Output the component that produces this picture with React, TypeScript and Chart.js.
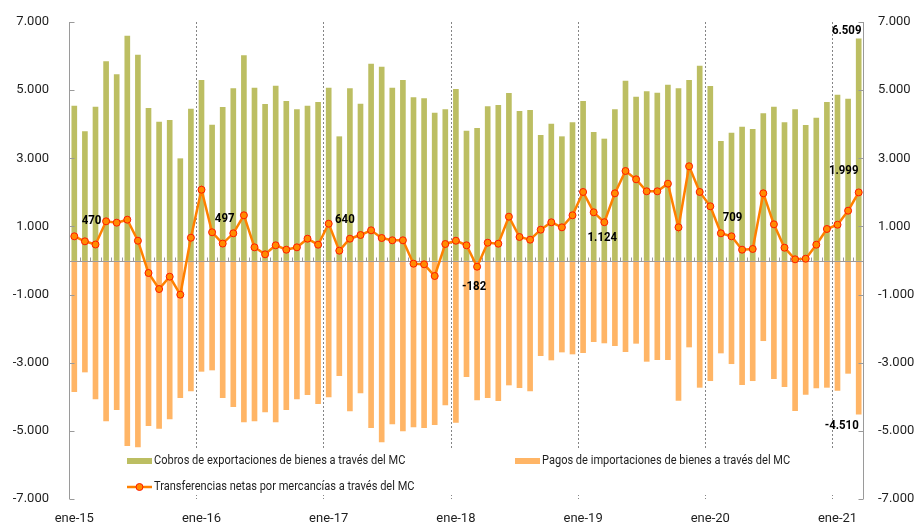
import React, { useEffect, useRef } from 'react';
import { Chart, registerables } from 'chart.js';

Chart.register(...registerables);

const monthNames = ['ene', 'feb', 'mar', 'abr', 'may', 'jun', 'jul', 'ago', 'sep', 'oct', 'nov', 'dic'];
const yearSuffixes = ['15', '16', '17', '18', '19', '20', '21'];
const categories: string[] = yearSuffixes.flatMap((y) => monthNames.map((m) => `${m}-${y}`)).slice(0, 75);

// Cobros de exportaciones de bienes a través del MC
const exportsMC = [
  4535, 3781, 4505, 5836, 5455, 6589, 6032, 4467, 4065, 4114, 2988, 4447,
  5289, 3977, 4496, 5043, 6013, 5063, 4584, 5122, 4672, 4427, 4535, 4643,
  5063, 3634, 5043, 4593, 5767, 5680, 5063, 5289, 4779, 4750, 4329, 4427,
  5024, 3801, 3879, 4516, 4555, 4907, 4379, 4408, 3673, 4006, 3634, 4045,
  4672, 3762, 3566, 4427, 5269, 4798, 4955, 4916, 5151, 5043, 5289, 5709,
  5112, 3498, 3742, 3918, 3849, 4310, 4505, 4045, 4427, 3967, 4183, 4643,
  4858, 4740, 6509,
];

// Pagos de importaciones de bienes a través del MC
const importsMC = [
  -3851, -3273, -4065, -4711, -4379, -5436, -5474, -4849, -4926, -4652, -4027, -3830,
  -3253, -3214, -4027, -4291, -4740, -4711, -4447, -4740, -4379, -4065, -3939, -4203,
  -4007, -3381, -4417, -3889, -4907, -5327, -4799, -5004, -4887, -4907, -4819, -4241,
  -4750, -3410, -4094, -4027, -4114, -3654, -3733, -3830, -2794, -2920, -2686, -2744,
  -2706, -2383, -2420, -2500, -2676, -2431, -2960, -2911, -2911, -4104, -2539, -3723,
  -3528, -2715, -3029, -3645, -3528, -2354, -3469, -3704, -4409, -3929, -3743, -3723,
  -3811, -3312, -4510,
];

// Transferencias netas por mercancías a través del MC
const netMC = [
  710, 563, 470, 1150, 1110, 1198, 581, -367, -837, -475, -1003, 669,
  2078, 828, 497, 798, 1327, 387, 182, 446, 317, 387, 640, 464,
  1080, 288, 640, 748, 886, 660, 593, 593, -94, -112, -455, 484,
  581, 446, -182, 522, 493, 1286, 690, 611, 904, 1121, 974, 1327,
  2011, 1415, 1124, 1972, 2627, 2383, 2031, 2031, 2254, 974, 2765, 2011,
  1591, 798, 709, 317, 338, 1972, 1062, 376, 35, 53, 464, 925,
  1051, 1462, 1999,
];

const seriesNames = [
  'Cobros de exportaciones de bienes a través del MC',
  'Pagos de importaciones de bienes a través del MC',
  'Transferencias netas por mercancías a través del MC',
];

const yMin = -7000;
const yMax = 7000;
const yStep = 2000;

// which points get a value label (dataset index, point index) and label offset in px
const labelledPoints = [
  { ds: 2, idx: 2, dx: -4, dy: -24 },
  { ds: 2, idx: 14, dx: 2, dy: -25 },
  { ds: 2, idx: 26, dx: -5, dy: -19 },
  { ds: 2, idx: 38, dx: -3, dy: 20 },
  { ds: 2, idx: 50, dx: -2, dy: 16 },
  { ds: 2, idx: 62, dx: 1, dy: -19 },
  { ds: 2, idx: 74, dx: -15, dy: -22 },
  { ds: 0, idx: 74, dx: -12, dy: -8 },
  { ds: 1, idx: 74, dx: -17, dy: 12 },
];

const GREEN = '#BCBE62';
const ORANGE_BAR = '#FFB566';
const LINE = '#FF8000';
const MARKER_FILL = '#FF8A00';
const MARKER_BORDER = '#FF1A00';
const AXIS = '#9a9a9a';
const TEXT = '#1e1e1e';
const FONT = 'Roboto';

const fmt = (v: number) => {
  const s = Math.abs(Math.round(v)).toString().replace(/\B(?=(\d{3})+(?!\d))/g, '.');
  return (v < 0 ? '-' : '') + s;
};

const drawCondensedText = (ctx: CanvasRenderingContext2D, text: string, x: number, y: number, factor: number) => {
  const w = ctx.measureText(text).width;
  ctx.fillText(text, x, y, w * factor);
};

const decorPlugin = {
  id: 'decor',
  beforeDatasetsDraw(chart: any) {
    const { ctx, chartArea: a, scales } = chart;
    const x = scales.x;
    ctx.save();
    ctx.strokeStyle = '#858585';
    ctx.lineWidth = 1;
    ctx.setLineDash([2, 2]);
    for (let i = 12; i < categories.length; i += 12) {
      const px = Math.round((x.getPixelForValue(i - 1) + x.getPixelForValue(i)) / 2) + 0.5;
      ctx.beginPath();
      ctx.moveTo(px, a.top);
      ctx.lineTo(px, a.bottom);
      ctx.stroke();
    }
    ctx.restore();
  },
  afterDatasetDraw(chart: any, args: any) {
    if (args.index !== 0) return;
    const { ctx, chartArea: a, scales } = chart;
    const x = scales.x;
    const y0 = Math.round(scales.y.getPixelForValue(0)) + 0.5;
    ctx.save();
    ctx.strokeStyle = AXIS;
    ctx.lineWidth = 1;
    ctx.beginPath();
    ctx.moveTo(a.left, y0);
    ctx.lineTo(a.right, y0);
    for (let i = 1; i < categories.length; i++) {
      const px = Math.round((x.getPixelForValue(i - 1) + x.getPixelForValue(i)) / 2) + 0.5;
      ctx.moveTo(px, y0);
      ctx.lineTo(px, y0 - 4);
    }
    ctx.stroke();
    ctx.restore();
  },
  afterDatasetsDraw(chart: any) {
    const { ctx, chartArea: a, scales } = chart;
    const y = scales.y;
    ctx.save();
    ctx.strokeStyle = AXIS;
    ctx.lineWidth = 1;
    const lx = Math.round(a.left) + 0.5;
    const rx = Math.round(a.right) - 0.5;
    ctx.beginPath();
    ctx.moveTo(lx, a.top);
    ctx.lineTo(lx, a.bottom);
    ctx.moveTo(rx, a.top);
    ctx.lineTo(rx, a.bottom);
    for (let v = yMin; v <= yMax; v += yStep) {
      const py = Math.round(y.getPixelForValue(v)) + 0.5;
      ctx.moveTo(lx, py);
      ctx.lineTo(lx + 5, py);
      ctx.moveTo(rx, py);
      ctx.lineTo(rx - 5, py);
    }
    ctx.stroke();

    ctx.fillStyle = '#000';
    ctx.font = `bold 13px ${FONT}`;
    ctx.textAlign = 'center';
    ctx.textBaseline = 'middle';
    labelledPoints.forEach((p) => {
      const el = chart.getDatasetMeta(p.ds).data[p.idx];
      const val = chart.data.datasets[p.ds].data[p.idx] as number;
      const text = fmt(val);
      const w = ctx.measureText(text).width * 0.88;
      ctx.fillText(text, el.x + p.dx, el.y + p.dy, w);
    });
    ctx.restore();
  },
  afterDraw(chart: any) {
    const { ctx, chartArea: a } = chart;
    ctx.save();
    ctx.fillStyle = '#ffffff';
    ctx.fillRect(a.left + 50, a.bottom - 49, a.right - a.left - 70, 45);
    const row1 = a.bottom - 38;
    const row2 = a.bottom - 12;
    const c1 = a.left + 58;
    const c2 = a.left + 446;
    ctx.fillStyle = GREEN;
    ctx.fillRect(c1, row1 - 3, 25, 6);
    ctx.fillStyle = ORANGE_BAR;
    ctx.fillRect(c2, row1 - 3, 25, 6);
    ctx.strokeStyle = LINE;
    ctx.lineWidth = 2.5;
    ctx.beginPath();
    ctx.moveTo(c1, row2);
    ctx.lineTo(c1 + 25, row2);
    ctx.stroke();
    ctx.beginPath();
    ctx.arc(c1 + 12.5, row2, 3.5, 0, Math.PI * 2);
    ctx.fillStyle = MARKER_FILL;
    ctx.fill();
    ctx.lineWidth = 1;
    ctx.strokeStyle = MARKER_BORDER;
    ctx.stroke();

    ctx.fillStyle = TEXT;
    ctx.font = `13px ${FONT}`;
    ctx.textAlign = 'left';
    ctx.textBaseline = 'middle';
    drawCondensedText(ctx, seriesNames[0], c1 + 27, row1, 0.85);
    drawCondensedText(ctx, seriesNames[1], c2 + 27, row1, 0.85);
    drawCondensedText(ctx, seriesNames[2], c1 + 27, row2, 0.85);
    ctx.restore();
  },
};

export default function App() {
  const ref = useRef<HTMLCanvasElement | null>(null);

  useEffect(() => {
    document.body.style.margin = '0';
    const canvas = ref.current;
    if (!canvas) return;
    const chart = new Chart(canvas, {
      type: 'bar',
      data: {
        labels: categories,
        datasets: [
          {
            type: 'bar',
            label: seriesNames[0],
            data: exportsMC,
            backgroundColor: GREEN,
            grouped: false,
            barThickness: 5,
            order: 1,
            yAxisID: 'y',
          } as any,
          {
            type: 'bar',
            label: seriesNames[1],
            data: importsMC,
            backgroundColor: ORANGE_BAR,
            grouped: false,
            barThickness: 5,
            order: 1,
            yAxisID: 'y',
          } as any,
          {
            type: 'line',
            label: seriesNames[2],
            data: netMC,
            borderColor: LINE,
            borderWidth: 2.5,
            pointRadius: 3.5,
            pointBorderWidth: 1,
            pointBackgroundColor: MARKER_FILL,
            pointBorderColor: MARKER_BORDER,
            tension: 0,
            order: 0,
            yAxisID: 'y',
          } as any,
        ],
      },
      options: {
        animation: false,
        responsive: false,
        maintainAspectRatio: false,
        layout: { padding: { top: 22, bottom: 0, left: 0, right: 0 } },
        plugins: {
          legend: { display: false },
          tooltip: { enabled: false },
        },
        scales: {
          x: {
            type: 'category',
            offset: true,
            grid: { display: false, drawTicks: false },
            border: { display: false },
            ticks: {
              autoSkip: false,
              maxRotation: 0,
              minRotation: 0,
              padding: 12,
              color: TEXT,
              font: { family: FONT, size: 13 },
              callback: (_v: any, i: number) => (i % 12 === 0 ? categories[i] : ''),
            },
            afterFit: (s: any) => {
              s.height = 26;
              s.paddingLeft = 0;
              s.paddingRight = 0;
            },
          },
          y: {
            type: 'linear',
            position: 'left',
            min: yMin,
            max: yMax,
            grid: { display: false, drawTicks: false },
            border: { display: false },
            ticks: {
              stepSize: yStep,
              padding: 20,
              color: TEXT,
              font: { family: FONT, size: 13 },
              callback: (v: any) => fmt(Number(v)),
            },
            afterFit: (s: any) => {
              s.width = 69;
              s.paddingTop = 0;
              s.paddingBottom = 0;
            },
          },
          y2: {
            type: 'linear',
            position: 'right',
            min: yMin,
            max: yMax,
            grid: { display: false, drawTicks: false },
            border: { display: false },
            ticks: {
              stepSize: yStep,
              padding: 14,
              color: TEXT,
              font: { family: FONT, size: 13 },
              callback: (v: any) => fmt(Number(v)),
            },
            afterFit: (s: any) => {
              s.width = 52;
              s.paddingTop = 0;
              s.paddingBottom = 0;
            },
          },
        },
      },
      plugins: [decorPlugin],
    });
    return () => chart.destroy();
  }, []);

  return (
    <div style={{ width: 916, height: 525 }}>
      <canvas ref={ref} width={916} height={525} style={{ display: 'block' }} />
    </div>
  );
}
